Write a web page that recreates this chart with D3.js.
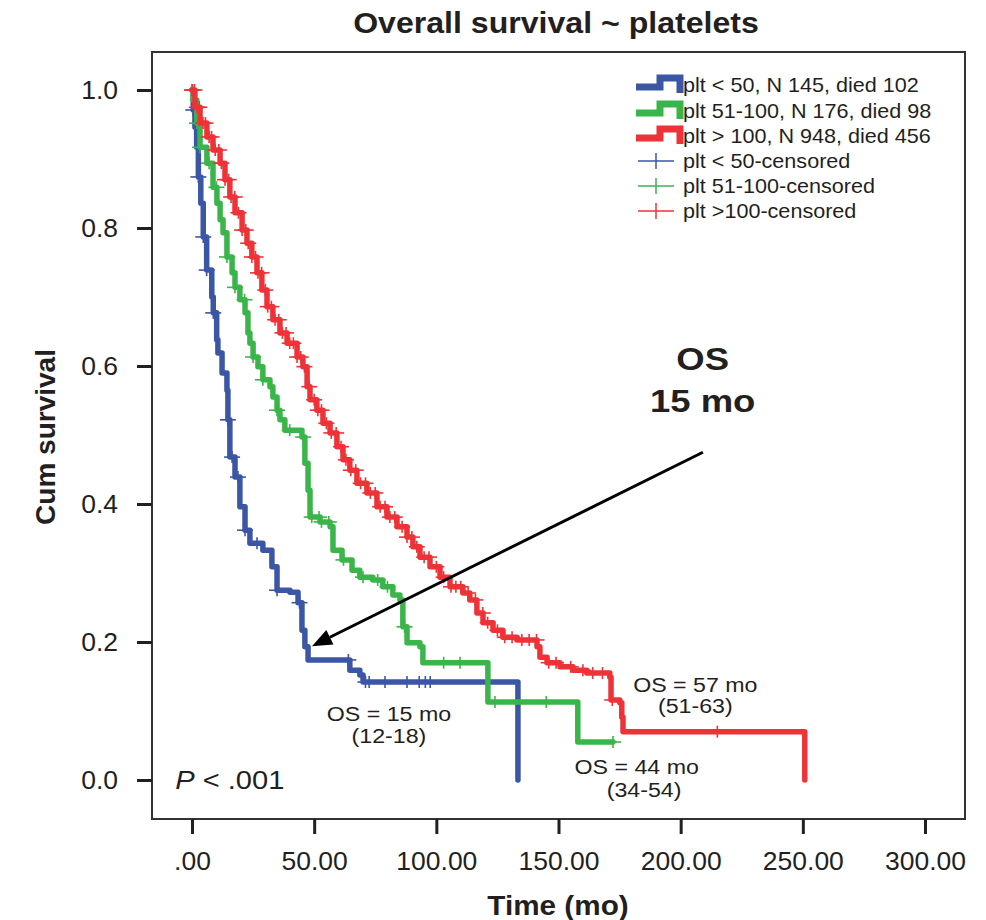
<!DOCTYPE html>
<html>
<head>
<meta charset="utf-8">
<script src="https://cdn.jsdelivr.net/npm/d3@7"></script>
<style>
body{margin:0;background:#fff;}
text{font-family:"Liberation Sans",Arial,sans-serif;fill:#231f20;}
</style>
</head>
<body>
<div class="svgWrap"></div>
<script>
// Kaplan-Meier curves (time in months, cum survival)
var groupLabels = ['plt < 50, N 145, died 102', 'plt 51-100, N 176, died 98', 'plt > 100, N 948, died 456'];
var censorLabels = ['plt < 50-censored', 'plt 51-100-censored', 'plt >100-censored'];
var colors = ['#3c56a6', '#3ab54a', '#ee3338'];

var lowTime = [0, 0.5, 1.2, 1.9, 2.6, 3.6, 4.6, 6.0, 8.1, 8.7, 10.1, 10.6, 12.3, 14.3, 14.7, 15.5, 17.6, 19.6, 21.7, 23.7, 29, 32.7, 34.8, 40.1, 43.4, 45, 46.2, 47.5, 64.6, 68.7, 70, 133.4];
var lowSurv = [1, 0.971, 0.946, 0.917, 0.874, 0.836, 0.787, 0.739, 0.70, 0.677, 0.638, 0.619, 0.59, 0.565, 0.522, 0.468, 0.439, 0.396, 0.362, 0.343, 0.333, 0.309, 0.275, 0.272, 0.257, 0.217, 0.193, 0.174, 0.159, 0.152, 0.142, 0];
var lowCens = [0.5, 2.6, 4.6, 6.0, 8.7, 14.7, 16.4, 18.8, 21.7, 26.6, 34.8, 44, 64, 71, 72.5, 79, 88, 93, 95.5, 97.5];

var midTime = [0, 0.4, 2, 3.3, 6.1, 8.6, 10.2, 11.5, 12.7, 14.3, 16.4, 17.6, 19.6, 21.7, 22.9, 23.7, 25, 27, 29, 31.9, 33.1, 34.8, 36, 38, 45, 46.2, 47.5, 48.3, 52.4, 56.5, 57.7, 61.4, 65.5, 68.7, 74, 78.1, 82.2, 85.1, 86.3, 88, 93.3, 94.5, 121.1, 157.9, 172.3];
var midSurv = [1, 0.985, 0.952, 0.917, 0.894, 0.859, 0.836, 0.812, 0.793, 0.758, 0.735, 0.714, 0.696, 0.677, 0.648, 0.633, 0.613, 0.599, 0.58, 0.57, 0.555, 0.536, 0.522, 0.507, 0.497, 0.459, 0.42, 0.381, 0.374, 0.367, 0.333, 0.319, 0.304, 0.294, 0.29, 0.28, 0.268, 0.261, 0.222, 0.199, 0.193, 0.17, 0.113, 0.055, 0.055];
var midCens = [0.3, 2, 3.3, 7, 10, 14.3, 17.6, 21.5, 25, 29, 34.8, 40, 45.5, 49, 52, 53, 56, 62, 70, 76, 80, 87, 103, 109.7, 124, 145, 172.3];

var highTime = [0, 1.2, 3.3, 6.1, 8.6, 11.5, 13.5, 15.5, 17.6, 20.5, 22.5, 24.5, 26.6, 28.6, 30.7, 33.1, 36, 38.9, 43, 45.4, 47.1, 48.3, 51.1, 53.6, 56.5, 59.3, 61.8, 64.6, 67.5, 71.6, 75.7, 79.8, 83.9, 88, 90.4, 93.3, 97.4, 101.5, 105.6, 110.9, 113.7, 116.6, 119.1, 123.2, 127.2, 133, 141.2, 142.4, 145.3, 150.6, 155.9, 161.6, 171, 171.5, 175.1, 175.9, 176.4, 250.8];
var highSurv = [1, 0.975, 0.952, 0.932, 0.913, 0.894, 0.87, 0.845, 0.822, 0.797, 0.778, 0.758, 0.735, 0.71, 0.686, 0.667, 0.648, 0.633, 0.613, 0.599, 0.57, 0.551, 0.536, 0.517, 0.503, 0.483, 0.464, 0.449, 0.43, 0.416, 0.396, 0.381, 0.367, 0.352, 0.338, 0.323, 0.309, 0.294, 0.28, 0.271, 0.261, 0.242, 0.228, 0.217, 0.207, 0.203, 0.193, 0.178, 0.17, 0.164, 0.159, 0.155, 0.149, 0.116, 0.112, 0.091, 0.07, 0];
var highCens = [0, 1, 2, 3, 4.5, 5.5, 7, 8, 9.5, 11, 12, 13.5, 15, 16, 17.5, 19, 20.5, 22, 23, 24.5, 26, 27, 28.5, 30, 31, 32.5, 34, 35.5, 37, 38.5, 40, 41.5, 43, 44.5, 46, 48, 50, 51.5, 53, 55, 57, 59, 61, 63, 65, 67, 69, 71, 73, 75, 77, 79, 81, 83, 86, 88, 90, 92, 95, 97, 100, 103, 106, 108, 110, 113, 116, 119, 121, 125, 128, 131, 135, 138, 141, 146, 149, 155, 160, 164, 168, 172, 215];

var xTicks = [0, 50, 100, 150, 200, 250, 300];
var xTickLabels = ['.00', '50.00', '100.00', '150.00', '200.00', '250.00', '300.00'];
var yTicks = [0, 0.2, 0.4, 0.6, 0.8, 1.0];
var yTickLabels = ['0.0', '0.2', '0.4', '0.6', '0.8', '1.0'];

var series = [
  {time: lowTime, surv: lowSurv, cens: lowCens},
  {time: midTime, surv: midSurv, cens: midCens},
  {time: highTime, surv: highSurv, cens: highCens}
];

var W = 986, H = 920;
var box = {left: 152, top: 52, right: 965, bottom: 819};

var x = d3.scaleLinear().domain([0, 300]).range([192, 925]);
var y = d3.scaleLinear().domain([0, 1]).range([780, 90]);

var svg = d3.select('.svgWrap').append('svg')
  .attr('width', W).attr('height', H);

// the source figure is a bit wider than tall, so text gets a small horizontal stretch
function label(px, py, str, size, sx, anchor, weight){
  return svg.append('text')
    .attr('transform', 'translate(' + px + ',' + py + ') scale(' + sx + ',1)')
    .attr('text-anchor', anchor || 'middle')
    .style('font-size', size + 'px')
    .style('font-weight', weight || 'normal')
    .text(str);
}

// frame
svg.append('rect')
  .attr('x', box.left).attr('y', box.top)
  .attr('width', box.right - box.left).attr('height', box.bottom - box.top)
  .attr('fill', 'none').attr('stroke', '#333').attr('stroke-width', 2);

// axes
var xAxis = svg.append('g')
  .attr('transform', 'translate(0,' + box.bottom + ')')
  .call(d3.axisBottom(x).tickValues(xTicks).tickFormat(function(d, i){ return xTickLabels[i]; }).tickSize(15).tickPadding(18));
var yAxis = svg.append('g')
  .attr('transform', 'translate(' + box.left + ',0)')
  .call(d3.axisLeft(y).tickValues(yTicks).tickFormat(function(d, i){ return yTickLabels[i]; }).tickSize(15).tickPadding(17));
[xAxis, yAxis].forEach(function(a){
  a.select('.domain').remove();
  a.selectAll('line').attr('stroke', '#231f20').attr('stroke-width', 3);
  a.selectAll('text').style('font-size', '25px').style('font-family', '"Liberation Sans",Arial,sans-serif')
    .attr('fill', '#231f20').attr('transform', 'scale(1.06,1)');
});

// titles
label(556, 33, 'Overall survival ~ platelets', 30, 1.07, 'middle', 'bold');
label(558, 915, 'Time (mo)', 27, 1.1, 'middle', 'bold');
svg.append('text').attr('transform', 'translate(55,437) rotate(-90)').attr('text-anchor', 'middle')
  .style('font-size', '28px').style('font-weight', 'bold').text('Cum survival');

// curves
var line = d3.line()
  .x(function(d){ return x(d[0]); })
  .y(function(d){ return y(d[1]); })
  .curve(d3.curveStepAfter);

function survAt(s, t){
  var i = d3.bisectRight(s.time, t) - 1;
  return s.surv[Math.max(i, 0)];
}

series.forEach(function(s, k){
  var pts = s.time.map(function(t, i){ return [t, s.surv[i]]; });
  svg.append('path')
    .datum(pts)
    .attr('d', line)
    .attr('fill', 'none')
    .attr('stroke', colors[k])
    .attr('stroke-width', 5.5)
    .attr('stroke-linejoin', 'round')
    .attr('stroke-linecap', 'round');

  var marks = svg.append('g').attr('stroke', colors[k]).attr('stroke-width', 1.6);
  s.cens.forEach(function(t){
    var cx = x(t), cy = y(survAt(s, t));
    marks.append('line').attr('x1', cx - 8).attr('x2', cx + 8).attr('y1', cy).attr('y2', cy);
    marks.append('line').attr('x1', cx).attr('x2', cx).attr('y1', cy - 6).attr('y2', cy + 6);
  });
});

// legend
var legY = [85, 111, 136, 161, 186, 211];
groupLabels.forEach(function(lbl, k){
  var cy = legY[k];
  svg.append('path')
    .attr('d', 'M636,' + (cy + 2) + 'H660V' + (cy - 7) + 'H680V' + (cy + 8))
    .attr('fill', 'none').attr('stroke', colors[k]).attr('stroke-width', 7);
  label(683, cy + 7, lbl, 20, 1.08, 'start');
});
censorLabels.forEach(function(lbl, k){
  var cy = legY[k + 3];
  svg.append('line').attr('x1', 638).attr('x2', 674).attr('y1', cy).attr('y2', cy)
    .attr('stroke', colors[k]).attr('stroke-width', 1.5);
  svg.append('line').attr('x1', 656).attr('x2', 656).attr('y1', cy - 8).attr('y2', cy + 8)
    .attr('stroke', colors[k]).attr('stroke-width', 1.5);
  label(683, cy + 7, lbl, 20, 1.08, 'start');
});

// annotations (placed in data units)
function note(t, s, txt, size, sx, bold){
  label(x(t), y(s), txt, size, sx, 'middle', bold ? 'bold' : 'normal');
}
note(80.6, 0.085, 'OS = 15 mo', 20, 1.16);
note(80.6, 0.054, '(12-18)', 20, 1.16);
note(206, 0.128, 'OS = 57 mo', 20, 1.16);
note(206, 0.097, '(51-63)', 20, 1.16);
note(182, 0.008, 'OS = 44 mo', 20, 1.16);
note(185, -0.024, '(34-54)', 20, 1.16);
note(209, 0.594, 'OS', 32, 1.14, true);
note(209, 0.533, '15 mo', 32, 1.14, true);

var pv = svg.append('text').attr('transform', 'translate(' + x(-6.9) + ',' + y(-0.013) + ') scale(1.12,1)')
  .style('font-size', '26px');
pv.append('tspan').style('font-style', 'italic').text('P');
pv.append('tspan').text(' < .001');

// arrow pointing at blue median
var a0 = [x(209.1), y(0.475)], a1 = [x(49.1), y(0.194)];
var ang = Math.atan2(a1[1] - a0[1], a1[0] - a0[0]);
var hl = 20, hw = 8;
var bx = a1[0] - hl * Math.cos(ang), by = a1[1] - hl * Math.sin(ang);
svg.append('line').attr('x1', a0[0]).attr('y1', a0[1]).attr('x2', bx).attr('y2', by)
  .attr('stroke', '#000').attr('stroke-width', 3);
svg.append('path')
  .attr('d', 'M' + a1[0] + ',' + a1[1] +
    'L' + (bx + hw * Math.sin(ang)) + ',' + (by - hw * Math.cos(ang)) +
    'L' + (bx - hw * Math.sin(ang)) + ',' + (by + hw * Math.cos(ang)) + 'Z')
  .attr('fill', '#000');
</script>
</body>
</html>
